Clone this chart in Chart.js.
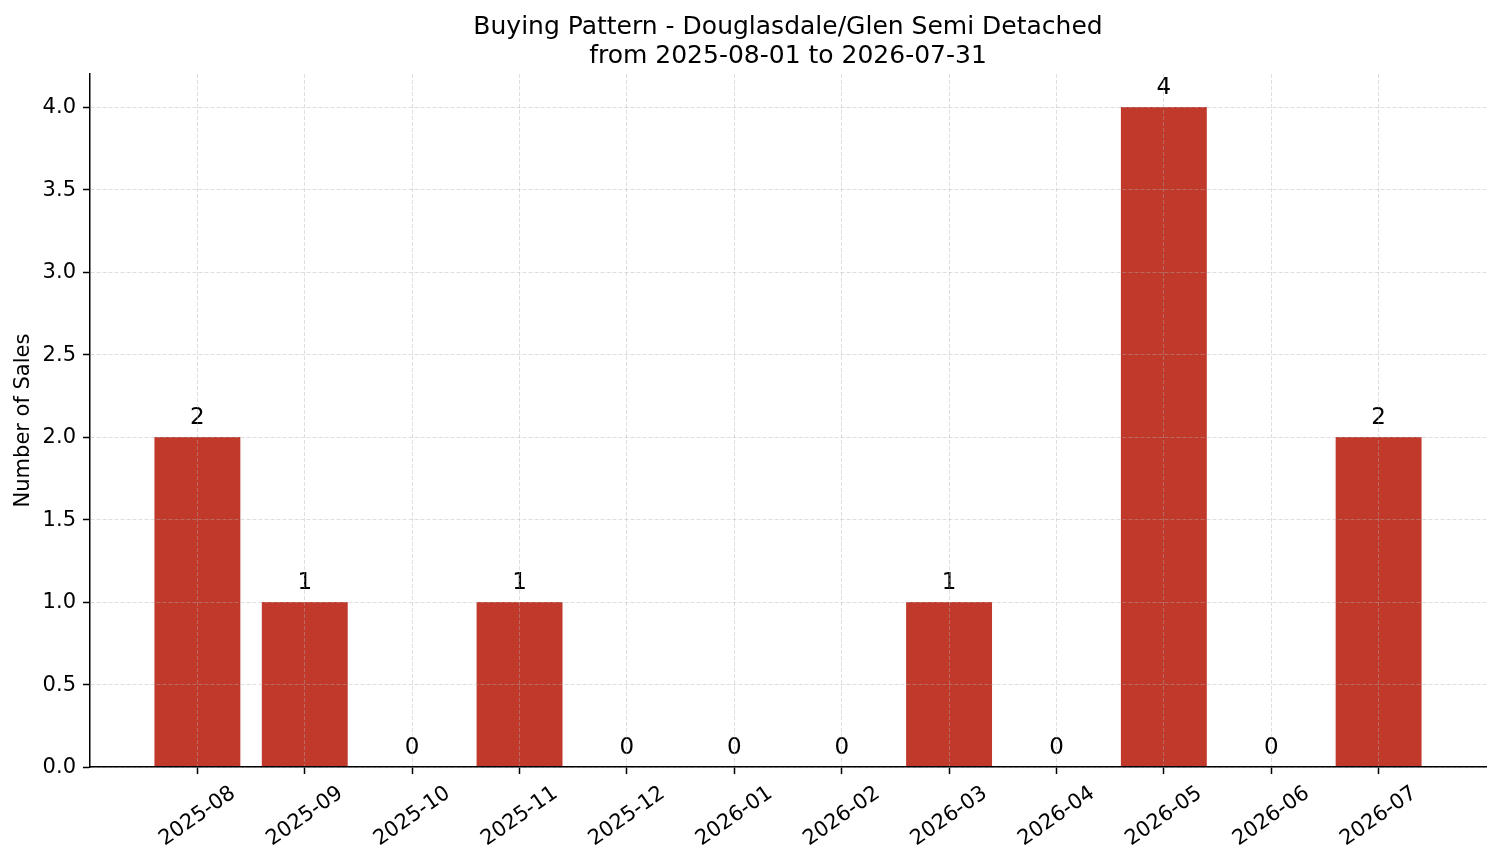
<!DOCTYPE html>
<html>
<head>
<meta charset="utf-8">
<title>Buying Pattern - Douglasdale/Glen Semi Detached</title>
<script src="https://cdn.jsdelivr.net/npm/chart.js@4.4.1/dist/chart.umd.min.js"></script>
<style>
  html, body { margin: 0; padding: 0; background: #fff; }
  #wrap { width: 1501px; height: 863px; position: relative; }
</style>
</head>
<body>
<div id="wrap"><canvas id="chart"></canvas></div>
<script>
// Data
const months = ['2025-08', '2025-09', '2025-10', '2025-11', '2025-12', '2026-01',
    '2026-02', '2026-03', '2026-04', '2026-05', '2026-06', '2026-07'];
const sales = [2, 1, 0, 1, 0, 0, 0, 1, 0, 4, 0, 2];
const yTicks = [0, 0.5, 1.0, 1.5, 2.0, 2.5, 3.0, 3.5, 4.0];
const titleLines = ['Buying Pattern - Douglasdale/Glen Semi Detached', 'from 2025-08-01 to 2026-07-31'];
const yTitle = 'Number of Sales';

const FONT = "'DejaVu Sans', 'Liberation Sans', sans-serif";
const BAR = '#c0392b';
const GRID = 'rgba(176, 176, 176, 0.42)';

Chart.defaults.font.family = FONT;
Chart.defaults.color = '#000';

// value labels above each bar
const barLabels = {
    id: 'barLabels',
    afterDatasetsDraw(chart) {
        const ctx = chart.ctx;
        const meta = chart.getDatasetMeta(0);
        ctx.save();
        ctx.font = '23px ' + FONT;
        ctx.fillStyle = '#000';
        ctx.textAlign = 'center';
        ctx.textBaseline = 'alphabetic';
        meta.data.forEach((bar, i) => {
            ctx.fillText(String(sales[i]), bar.x, bar.y - 13);
        });
        ctx.restore();
    }
};

const ctx = document.getElementById('chart').getContext('2d');
const chart = new Chart(ctx, {
    type: 'bar',
    data: {
        datasets: [{
            label: yTitle,
            data: sales.map((v, i) => ({ x: i, y: v })),
            backgroundColor: BAR,
            borderWidth: 0,
            categoryPercentage: 1.0,
            barPercentage: 0.8,
        }]
    },
    options: {
        responsive: true,
        maintainAspectRatio: false,
        animation: false,
        layout: { padding: { left: 0, right: 15, top: 0, bottom: 0 } },
        plugins: {
            legend: { display: false },
            tooltip: { enabled: false },
            title: {
                display: true,
                text: titleLines,
                fullSize: false,
                color: '#000',
                font: { size: 25, weight: 'normal', lineHeight: 1.16 },
                padding: { top: 13, bottom: 3 }
            }
        },
        scales: {
            x: {
                type: 'linear',
                offset: false,
                min: -1,
                max: 12,
                afterBuildTicks(scale) {
                    scale.ticks = months.map((m, i) => ({ value: i }));
                },
                afterFit(scale) { scale.height = 96; },
                ticks: {
                    autoSkip: false,
                    minRotation: 35,
                    maxRotation: 35,
                    padding: 7,
                    labelOffset: 36,
                    font: { size: 21 },
                    color: '#000',
                    callback: (v) => months[v] ?? ''
                },
                grid: {
                    z: 1,
                    offset: false,
                    color: GRID,
                    lineWidth: 1,
                    tickLength: 7,
                    tickColor: '#000',
                    tickWidth: 1.5,
                    tickBorderDash: []
                },
                border: { display: true, color: '#000', width: 1.5, dash: [4, 2], z: 2 }
            },
            y: {
                min: 0,
                max: 4.2,
                afterBuildTicks(scale) {
                    scale.ticks = yTicks.map(v => ({ value: v }));
                },
                afterFit(scale) { scale.width = 90; },
                ticks: {
                    padding: 7,
                    labelOffset: 1,
                    font: { size: 21 },
                    color: '#000',
                    callback: (v) => Number(v).toFixed(1)
                },
                title: {
                    display: true,
                    text: yTitle,
                    color: '#000',
                    font: { size: 21 },
                    padding: { top: 11, bottom: 0 }
                },
                grid: {
                    z: 1,
                    color: GRID,
                    lineWidth: 1,
                    tickLength: 7,
                    tickColor: '#000',
                    tickWidth: 1.5,
                    tickBorderDash: []
                },
                border: { display: true, color: '#000', width: 1.5, dash: [4, 2], z: 2 }
            }
        }
    },
    plugins: [barLabels]
});
</script>
</body>
</html>
